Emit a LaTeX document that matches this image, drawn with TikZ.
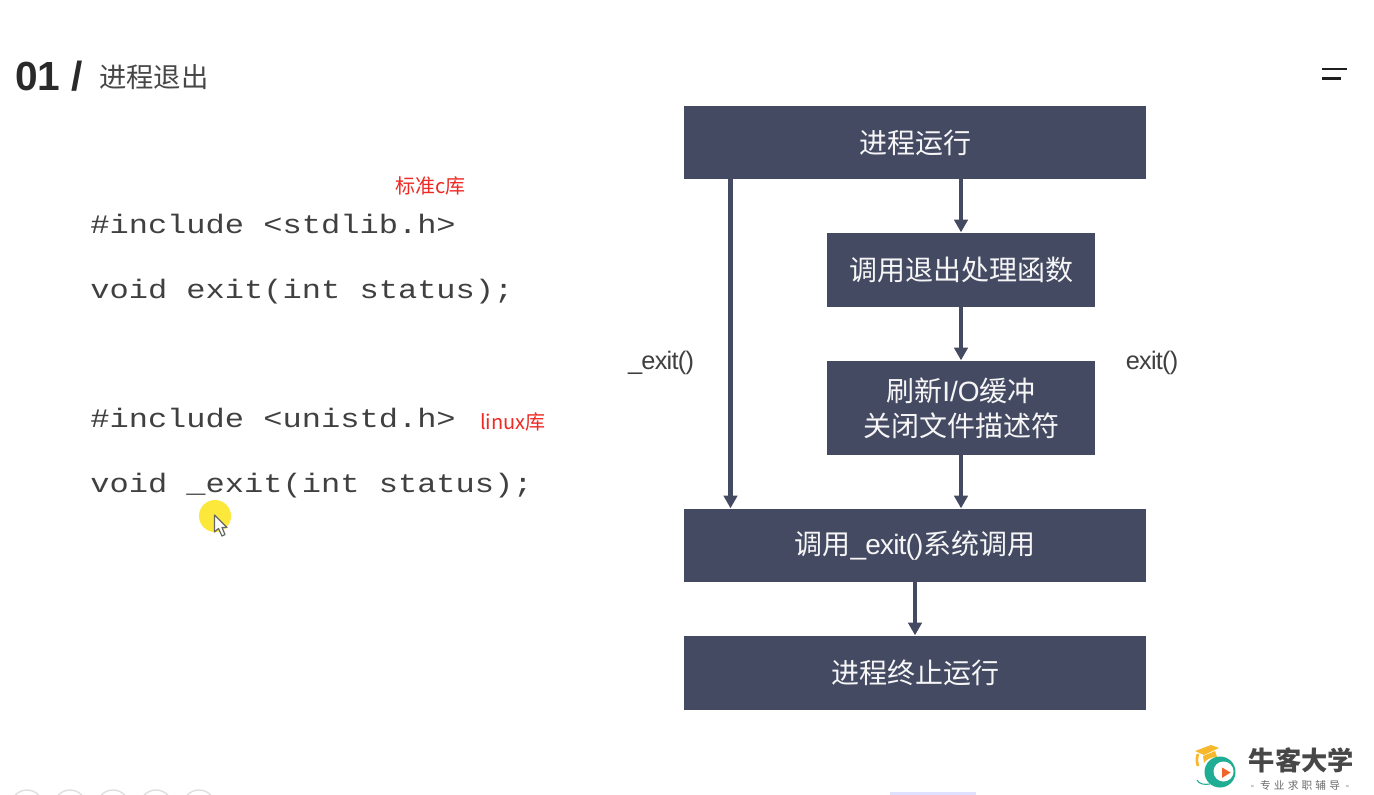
\documentclass[tikz,border=0pt]{standalone}
\usepackage{fontspec}
\setmainfont{Liberation Sans}
\newfontfamily\cjk{Noto Sans CJK SC}
\newfontfamily\codefont{Liberation Mono}
\newcommand{\latintight}[1]{{\fontspec{Liberation Sans}[LetterSpace=-3]#1}}
\usetikzlibrary{arrows.meta}
\definecolor{boxfill}{HTML}{454A63}
\definecolor{inkdark}{HTML}{2A2A2A}
\definecolor{codeink}{HTML}{404040}
\definecolor{notered}{HTML}{EE2A24}
\definecolor{logoteal}{HTML}{1FAE93}
\definecolor{logoamber}{HTML}{F7B92B}
\definecolor{logoorange}{HTML}{F0662A}
\definecolor{pointerglow}{HTML}{FBE83A}
\tikzset{
  x=0.75pt, y=-0.75pt,
  flowbox/.style={fill=boxfill, text=white!95!boxfill, inner sep=0pt, align=center,
    font=\cjk\fontsize{21}{26}\selectfont},
  flowarrow/.style={draw=boxfill, line width=3.3pt,
    -{Triangle[length=9.5pt,width=10pt]}, shorten >=0.3pt},
  codeline/.style={anchor=west, inner sep=0pt, text=codeink, xscale=1.202, transform shape,
    font=\codefont\fontsize{20}{24}\selectfont},
  sidecall/.style={inner sep=0pt, text=codeink, font=\fontsize{19}{22}\selectfont},
  redlabel/.style={anchor=west, inner sep=0pt, text=notered, font=\cjk\fontsize{15}{18}\selectfont},
  navdot/.style={draw=black!13, line width=1pt},
}
\begin{document}
\begin{tikzpicture}
\useasboundingbox (0,0) rectangle (1374,795);
\fill[white] (0,0) rectangle (1374,795);

% heading
\node[anchor=west, inner sep=0pt, text=inkdark, font=\bfseries\fontsize{30.5}{36}\selectfont] (num) at (15,76) {01 /};
\node[anchor=west, inner sep=0pt, text=black!72, font=\cjk\fontsize{20.5}{25}\selectfont] (title) at (99,77) {进程退出};

% menu glyph
\draw[line width=1.6pt, black!88] (1322,69) -- (1347,69);
\draw[line width=1.6pt, black!88] (1322,78.5) -- (1341,78.5);

% prototypes
\node[codeline] (inc1) at (90,224.5) {\#include <stdlib.h>};
\node[codeline] (fn1)  at (90,292) {void exit(int status);};
\node[codeline] (inc2) at (90,418.5) {\#include <unistd.h>};
\node[codeline] (fn2)  at (90,486) {void \_exit(int status);};
\node[redlabel] (lib1) at (395,186) {标准c库};
\node[redlabel] (lib2) at (480,422) {linux库};

% pointer highlight
\fill[pointerglow] (215,516) circle (16);
\draw[black!60, fill=white, line width=0.9pt, line join=round]
  (214.5,515) -- (214.5,532) -- (218.5,528.5) -- (222,536) -- (225,534.5) -- (222,527.5) -- (227,527.5) -- cycle;

% flow boxes
\node[flowbox, minimum width=346.5pt, minimum height=54.75pt] (run)   at (915,142.5) {进程运行};
\node[flowbox, minimum width=201pt,   minimum height=55.5pt]  (hook)  at (961,270)   {调用退出处理函数};
\node[flowbox, minimum width=201pt,   minimum height=70.5pt]  (flush) at (961,408)   {刷新{\fontspec{Liberation Sans}I/O}缓冲\\关闭文件描述符};
\node[flowbox, minimum width=346.5pt, minimum height=54.75pt] (sys)   at (915,545.5) {\raisebox{-1.2pt}{调用\latintight{\_exit()}系统调用}};
\node[flowbox, minimum width=346.5pt, minimum height=55.5pt]  (stop)  at (915,673)   {进程终止运行};

% connectors
\coordinate (bypass) at (730.5,300);
\draw[flowarrow] (run.south -| bypass) -- (sys.north -| bypass);
\draw[flowarrow] (run.south -| hook.north) -- (hook.north);
\draw[flowarrow] (hook.south) -- (flush.north);
\draw[flowarrow] (flush.south) -- (sys.north -| flush.south);
\draw[flowarrow] (sys.south) -- (stop.north);

\node[sidecall] (lexit) at (661,362.5) {\addfontfeature{LetterSpace=-3}\_exit()};
\node[sidecall] (rexit) at (1152,362.5) {\addfontfeature{LetterSpace=-3}exit()};

% slide navigation, cut off by the lower edge
\foreach \cx in {27,70,113,156,199}
  \draw[navdot] (\cx,806) circle (16);
\fill[blue!55!white, opacity=.22] (890,792) rectangle (976,795);

% brand mark
\fill[logoamber] (1195,751) -- (1211,745) -- (1219,748) -- (1204,755) -- cycle;
\draw[logoamber, line width=2pt] (1198,754) .. controls (1196,759) and (1197,763) .. (1198,766);
\fill[logoamber] (1203,756) -- (1215,751) -- (1217,757) .. controls (1210,757) and (1206,760) .. (1204,763) -- cycle;
\fill[logoteal] (1220,772) circle (15.5);
\fill[white] (1223.5,771.5) circle (10);
\draw[logoteal, line width=0.8pt] (1197,780) .. controls (1199,784) and (1204,785) .. (1210,784);
\fill[logoorange] (1222,767.5) -- (1230.5,772.5) -- (1222,778) -- cycle;
\node[inner sep=0pt, text=black!72, font=\cjk\bfseries\fontsize{19.7}{23}\selectfont] (brand) at (1301.5,760) {牛客大学};
\node[inner sep=0pt, text=black!58, font=\cjk\fontsize{8}{9}\selectfont] (slogan) at (1300,785) {\addfontfeature{LetterSpace=30}- 专业求职辅导 -};
\end{tikzpicture}
\end{document}
